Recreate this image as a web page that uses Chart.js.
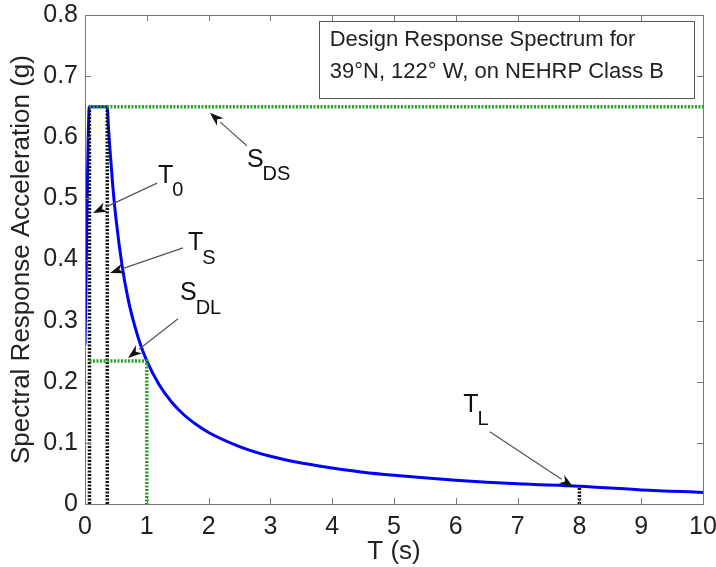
<!DOCTYPE html>
<html>
<head>
<meta charset="utf-8">
<script src="https://cdn.jsdelivr.net/npm/chart.js@4/dist/chart.umd.min.js"></script>
<style>
  body { margin: 0; background: #fff; }
  #chart { display: block; }
</style>
</head>
<body>
<canvas id="chart" width="716" height="567"></canvas>
<script>
// values
const periods = [0, 0.072, 0.36, 0.38, 0.4, 0.45, 0.5, 0.6, 0.7, 0.8, 0.9, 1.0, 1.2, 1.4, 1.6, 1.8, 2.0, 2.5, 3, 3.5, 4, 4.5, 5, 6, 7, 8, 9, 10];
const accel   = [0.26, 0.65, 0.65, 0.616, 0.585, 0.52, 0.468, 0.39, 0.334, 0.293, 0.26, 0.234, 0.195, 0.167, 0.146, 0.13, 0.117, 0.094, 0.078, 0.067, 0.059, 0.052, 0.047, 0.039, 0.033, 0.029, 0.023, 0.019];

const sdsX = [0.072, 10];
const sdsY = [0.65, 0.65];
const sdlX = [0.072, 1, 1];
const sdlY = [0.234, 0.234, 0];
const t0X = [0.072, 0.072];
const t0Y = [0, 0.65];
const tsX = [0.36, 0.36];
const tsY = [0, 0.65];
const tlX = [8, 8];
const tlY = [0, 0.029];

const xTicks = [0, 1, 2, 3, 4, 5, 6, 7, 8, 9, 10];
const yTicks = [0, 0.1, 0.2, 0.3, 0.4, 0.5, 0.6, 0.7, 0.8];

const boxLines = ['Design Response Spectrum for', '39\u00B0N, 122\u00B0 W, on NEHRP Class B'];

// label text, subscript, label anchor, arrow tail, arrow head (data units)
const notes = [
  { main: 'T', sub: '0',  at: [1.18, 0.537],  tail: [1.165, 0.525], head: [0.13, 0.476] },
  { main: 'T', sub: 'S',  at: [1.667, 0.427], tail: [1.586, 0.419], head: [0.405, 0.378] },
  { main: 'S', sub: 'DL', at: [1.537, 0.345], tail: [1.505, 0.303], head: [0.696, 0.239] },
  { main: 'S', sub: 'DS', at: [2.62, 0.563],  tail: [2.62, 0.586],  head: [2.02, 0.640] },
  { main: 'T', sub: 'L',  at: [6.12, 0.162],  tail: [6.55, 0.118],  head: [7.90, 0.028] }
];

const FONT = "'Liberation Sans', Arial, sans-serif";
const greenDot = 'rgb(40, 160, 40)';

function pts(xs, ys) {
  return xs.map((x, i) => ({ x: x, y: ys[i] }));
}

function dotted(xs, ys, color) {
  return {
    data: pts(xs, ys),
    borderColor: color,
    borderWidth: 3.5,
    borderDash: [2, 1.5],
    pointRadius: 0,
    fill: false,
    tension: 0,
    order: 0
  };
}

const framePlugin = {
  id: 'frame',
  afterDraw(chart) {
    const ctx = chart.ctx;
    const a = chart.chartArea;
    const xs = chart.scales.x, ys = chart.scales.y;
    ctx.save();
    ctx.strokeStyle = '#777';
    ctx.lineWidth = 1;
    ctx.strokeRect(a.left + 0.5, a.top + 0.5, a.right - a.left, a.bottom - a.top);
    ctx.beginPath();
    xTicks.forEach(v => {
      const px = Math.round(xs.getPixelForValue(v)) + 0.5;
      ctx.moveTo(px, a.bottom); ctx.lineTo(px, a.bottom - 6);
      ctx.moveTo(px, a.top); ctx.lineTo(px, a.top + 6);
    });
    yTicks.forEach(v => {
      const py = Math.round(ys.getPixelForValue(v)) + 0.5;
      ctx.moveTo(a.left, py); ctx.lineTo(a.left + 6, py);
      ctx.moveTo(a.right, py); ctx.lineTo(a.right - 6, py);
    });
    ctx.stroke();

    // text box
    const bx0 = xs.getPixelForValue(3.79), bx1 = xs.getPixelForValue(9.85);
    const by0 = ys.getPixelForValue(0.790), by1 = ys.getPixelForValue(0.664);
    ctx.fillStyle = '#fff';
    ctx.fillRect(bx0, by0, bx1 - bx0, by1 - by0);
    ctx.strokeStyle = '#555';
    ctx.strokeRect(Math.round(bx0) + 0.5, Math.round(by0) + 0.5, Math.round(bx1 - bx0), Math.round(by1 - by0));
    ctx.fillStyle = '#222';
    ctx.font = '22px ' + FONT;
    ctx.textBaseline = 'middle';
    ctx.textAlign = 'left';
    const tx = xs.getPixelForValue(3.96);
    ctx.fillText(boxLines[0], tx, ys.getPixelForValue(0.759));
    ctx.fillText(boxLines[1], tx, ys.getPixelForValue(0.707));

    // annotations
    notes.forEach(n => {
      const x1 = xs.getPixelForValue(n.tail[0]), y1 = ys.getPixelForValue(n.tail[1]);
      const x2 = xs.getPixelForValue(n.head[0]), y2 = ys.getPixelForValue(n.head[1]);
      const ang = Math.atan2(y2 - y1, x2 - x1);
      const hl = 14, hw = 5;
      const bxp = x2 - hl * Math.cos(ang), byp = y2 - hl * Math.sin(ang);
      ctx.strokeStyle = '#555';
      ctx.lineWidth = 1.2;
      ctx.beginPath();
      ctx.moveTo(x1, y1); ctx.lineTo(bxp, byp);
      ctx.stroke();
      ctx.fillStyle = '#111';
      ctx.beginPath();
      ctx.moveTo(x2, y2);
      ctx.lineTo(bxp + hw * Math.sin(ang), byp - hw * Math.cos(ang));
      ctx.lineTo(bxp + 0.3 * hl * Math.cos(ang), byp + 0.3 * hl * Math.sin(ang));
      ctx.lineTo(bxp - hw * Math.sin(ang), byp + hw * Math.cos(ang));
      ctx.closePath();
      ctx.fill();

      const lx = xs.getPixelForValue(n.at[0]), ly = ys.getPixelForValue(n.at[1]);
      ctx.fillStyle = '#111';
      ctx.font = '25px ' + FONT;
      ctx.fillText(n.main, lx, ly);
      const w = ctx.measureText(n.main).width;
      ctx.font = '20px ' + FONT;
      ctx.fillText(n.sub, lx + w - 1, ly + 15);
    });
    ctx.restore();
  }
};

const ctx = document.getElementById('chart').getContext('2d');
new Chart(ctx, {
  type: 'line',
  data: {
    datasets: [
      {
        data: pts(periods, accel),
        borderColor: '#0000ff',
        borderWidth: 3,
        pointRadius: 0,
        fill: false,
        cubicInterpolationMode: 'monotone',
        order: 2
      },
      dotted(sdsX, sdsY, greenDot),
      dotted(sdlX, sdlY, greenDot),
      dotted(t0X, t0Y, '#111'),
      dotted(tsX, tsY, '#111'),
      dotted(tlX, tlY, '#111')
    ]
  },
  options: {
    responsive: false,
    animation: false,
    layout: { padding: { top: 15, right: 13, left: 0, bottom: 0 } },
    plugins: { legend: { display: false }, tooltip: { enabled: false } },
    scales: {
      x: {
        type: 'linear',
        min: 0, max: 10,
        afterFit: s => { s.height = 63; s.paddingLeft = 0; s.paddingRight = 0; },
        afterBuildTicks: s => { s.ticks = xTicks.map(v => ({ value: v })); },
        grid: { display: false, drawTicks: false },
        border: { display: false },
        ticks: { color: '#222', padding: 8, maxRotation: 0, font: { family: FONT, size: 25 } },
        title: { display: true, text: 'T (s)', color: '#222', padding: { top: 0, bottom: 0 }, font: { family: FONT, size: 26 } }
      },
      y: {
        min: 0, max: 0.8,
        afterFit: s => { s.width = 85; s.paddingTop = 0; s.paddingBottom = 0; },
        afterBuildTicks: s => { s.ticks = yTicks.map(v => ({ value: v })); },
        grid: { display: false, drawTicks: false },
        border: { display: false },
        ticks: { color: '#222', padding: 7, font: { family: FONT, size: 25 }, callback: v => String(Math.round(v * 10) / 10) },
        title: { display: true, text: 'Spectral Response Acceleration (g)', color: '#222', padding: { top: 6, bottom: 0 }, font: { family: FONT, size: 26 } }
      }
    }
  },
  plugins: [framePlugin]
});
</script>
</body>
</html>
